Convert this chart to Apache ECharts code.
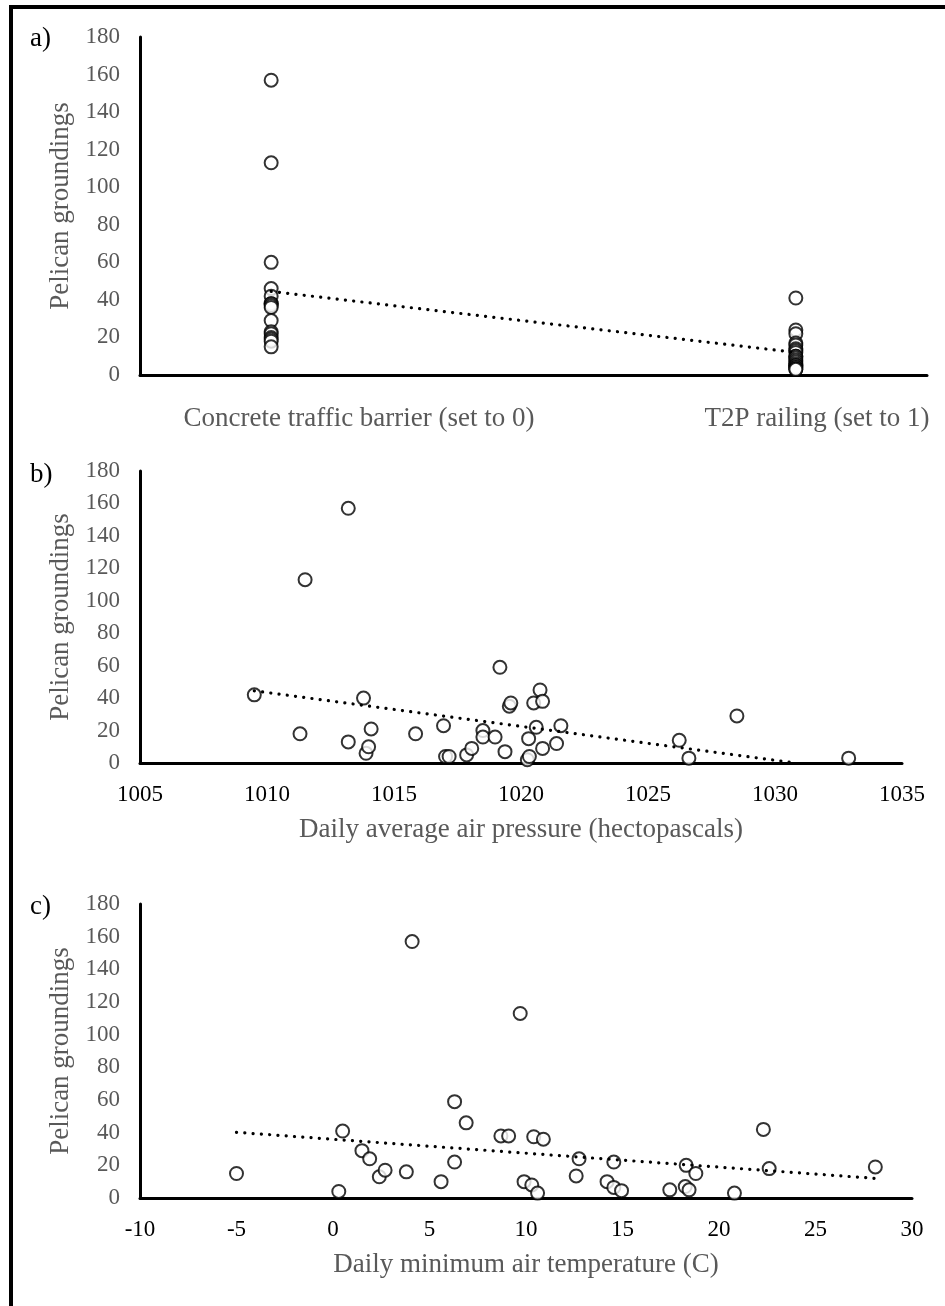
<!DOCTYPE html>
<html>
<head>
<meta charset="utf-8">
<title>Pelican groundings</title>
<script src="https://cdn.jsdelivr.net/npm/echarts@6/dist/echarts.min.js"></script>
<style>
  html, body { margin: 0; padding: 0; background: #fff; }
  #chart { width: 945px; height: 1306px; }
</style>
</head>
<body>
<div id="chart"></div>
<script>
// a) groundings per barrier type (0 = concrete, 1 = T2P railing)
const concreteCounts = [157, 113, 60, 46, 42, 38, 38, 37, 36, 29, 23, 22, 20, 19, 18, 15]
const railingCounts = [41, 24, 22, 17, 16, 14, 13, 12, 10, 10, 9, 8, 7, 6, 5, 5, 4, 4, 3, 3]
const barrierLabels = ['Concrete traffic barrier (set to 0)', 'T2P railing (set to 1)']

// b) daily average air pressure (hPa), groundings
const pressurePoints = [
  [1009.5, 42], [1011.3, 18], [1011.5, 113], [1013.2, 157], [1013.2, 13], [1013.8, 40],
  [1013.9, 6], [1014.0, 10], [1014.1, 21], [1015.85, 18], [1016.95, 23], [1017.03, 4],
  [1017.17, 4], [1017.86, 5], [1018.06, 9], [1018.5, 20], [1018.5, 16], [1018.98, 16],
  [1019.17, 59], [1019.37, 7], [1019.54, 35], [1019.6, 37], [1020.25, 2], [1020.33, 4],
  [1020.3, 15], [1020.5, 37], [1020.75, 45], [1020.85, 38], [1020.6, 22], [1020.85, 9],
  [1021.4, 12], [1021.57, 23], [1026.23, 14], [1026.61, 3], [1028.5, 29], [1032.9, 3]
]

// c) daily minimum air temperature (C), groundings
const tempPoints = [
  [-5.0, 15], [0.3, 4], [0.5, 41], [1.5, 29], [1.9, 24], [2.4, 13], [2.7, 17], [3.8, 16],
  [4.1, 157], [5.6, 10], [6.3, 59], [6.3, 22], [6.9, 46], [8.7, 38], [9.1, 38], [9.7, 113],
  [9.9, 10], [10.3, 8], [10.4, 37.5], [10.6, 3], [10.9, 36], [12.6, 13.5], [12.75, 24],
  [14.2, 10], [14.55, 22], [14.55, 6.5], [14.95, 4.5], [17.45, 5], [18.25, 7], [18.3, 20],
  [18.45, 5], [18.8, 15], [20.8, 3], [22.3, 42], [22.6, 18], [28.1, 19]
]

// linear trendlines, end points
const trendA = [[0, 44.5], [1, 12]]
const trendB = [[1009.5, 44.5], [1030.8, 0]]
const trendC = [[-5, 40.2], [28.1, 12]]

const font = "'Liberation Serif', 'Times New Roman', serif"
const grey = '#595959'

const grids = [
  { left: 140, top: 37, width: 787, height: 338 },
  { left: 140, top: 471, width: 762, height: 292 },
  { left: 140, top: 904, width: 772, height: 294 }
]

function yAxis(i) {
  return {
    type: 'value',
    gridIndex: i,
    min: 0,
    max: 180,
    interval: 20,
    name: 'Pelican groundings',
    nameLocation: 'middle',
    nameGap: 65,
    nameTextStyle: { color: grey, fontFamily: font, fontSize: 27 },
    axisLine: { show: true, onZero: false, lineStyle: { color: '#000', width: 3 } },
    axisTick: { show: false },
    splitLine: { show: false },
    axisLabel: { color: grey, fontFamily: font, fontSize: 23, margin: 20 }
  }
}

function xAxis(i, min, max, interval, name, showLabels) {
  return {
    type: 'value',
    gridIndex: i,
    min: min,
    max: max,
    interval: interval,
    name: name,
    nameLocation: 'middle',
    nameGap: 53,
    nameTextStyle: { color: grey, fontFamily: font, fontSize: 27 },
    axisLine: { show: true, onZero: false, lineStyle: { color: '#000', width: 3 } },
    axisTick: { show: false },
    splitLine: { show: false },
    axisLabel: {
      show: showLabels,
      color: '#000',
      fontFamily: font,
      fontSize: 23,
      margin: 20,
      formatter: v => String(v)
    }
  }
}

function dots(i, data) {
  return {
    type: 'scatter',
    xAxisIndex: i,
    yAxisIndex: i,
    data: data,
    symbol: 'circle',
    symbolSize: 13,
    itemStyle: { color: '#fff', borderColor: '#000', borderWidth: 2 },
    z: 2
  }
}

function trend(i, data) {
  return {
    type: 'line',
    xAxisIndex: i,
    yAxisIndex: i,
    data: data,
    symbol: 'none',
    silent: true,
    lineStyle: { color: '#000', width: 3.2, type: [0.1, 8.2], cap: 'round' },
    z: 3
  }
}

const panelA = concreteCounts.map(v => [0, v]).concat(railingCounts.map(v => [1, v]))

const chart = echarts.init(document.getElementById('chart'))
chart.setOption({
  animation: false,
  backgroundColor: '#fff',
  grid: grids,
  xAxis: [
    xAxis(0, -0.25, 1.25, 0.25, '', false),
    xAxis(1, 1005, 1035, 5, 'Daily average air pressure (hectopascals)', true),
    xAxis(2, -10, 30, 5, 'Daily minimum air temperature (C)', true)
  ],
  yAxis: [yAxis(0), yAxis(1), yAxis(2)],
  series: [
    dots(0, panelA), trend(0, trendA),
    dots(1, pressurePoints), trend(1, trendB),
    dots(2, tempPoints), trend(2, trendC)
  ],
  graphic: [
    {
      type: 'rect',
      shape: { x: 11, y: 7, width: 1000, height: 1400 },
      style: { fill: 'none', stroke: '#000', lineWidth: 4 },
      silent: true
    },
    { type: 'text', left: 30, top: 25, style: { text: 'a)', font: '27px ' + font, fill: '#000' } },
    { type: 'text', left: 30, top: 461, style: { text: 'b)', font: '27px ' + font, fill: '#000' } },
    { type: 'text', left: 30, top: 893, style: { text: 'c)', font: '27px ' + font, fill: '#000' } },
    {
      type: 'text', x: 359, y: 419,
      style: { text: barrierLabels[0], font: '27px ' + font, fill: grey, align: 'center', verticalAlign: 'middle' }
    },
    {
      type: 'text', x: 817, y: 419,
      style: { text: barrierLabels[1], font: '27px ' + font, fill: grey, align: 'center', verticalAlign: 'middle' }
    }
  ]
})
</script>
</body>
</html>
